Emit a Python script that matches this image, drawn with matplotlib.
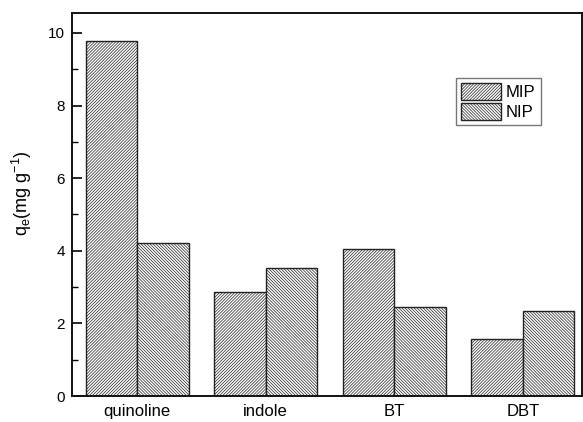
import matplotlib
matplotlib.use("Agg")
import matplotlib.pyplot as plt
import numpy as np

plt.rcParams['font.family'] = ['Liberation Sans', 'DejaVu Sans']
plt.rcParams['mathtext.default'] = 'regular'
plt.rcParams['hatch.linewidth'] = 0.5
plt.rcParams['hatch.color'] = '#4a4a4a'

categories = ['quinoline', 'indole', 'BT', 'DBT']
mip_values = [9.79, 2.87, 4.04, 1.57]
nip_values = [4.21, 3.52, 2.45, 2.34]
series_labels = ['MIP', 'NIP']

W, H = 583, 422
fig = plt.figure(figsize=(W / 100, H / 100), dpi=100)
ax = fig.add_axes([72 / W, 26 / H, 510 / W, 383 / H])

x = np.arange(len(categories))
width = 0.4
ax.bar(x - width / 2, mip_values, width, facecolor='white', edgecolor='#222222',
       linewidth=1.0, hatch='/' * 11, label=series_labels[0])
ax.bar(x + width / 2, nip_values, width, facecolor='white', edgecolor='#222222',
       linewidth=1.0, hatch='\\' * 11, label=series_labels[1])

ax.set_xlim(-0.507, 3.46)
ax.set_ylim(0, 10.55)
ax.set_xticks(x)
ax.set_xticklabels(categories, fontsize=12)
ax.tick_params(axis='x', length=0, pad=6)
ax.set_yticks([0, 2, 4, 6, 8, 10])
ax.set_yticks([1, 3, 5, 7, 9], minor=True)
ax.tick_params(axis='y', which='major', direction='in', length=7, width=1.2, labelsize=11, pad=5)
ax.tick_params(axis='y', which='minor', direction='in', length=4, width=1.0)

for s in ax.spines.values():
    s.set_linewidth(1.4)
    s.set_color('#111111')

ax.set_ylabel(r'q$_e$(mg g$^{-1}$)', fontsize=13)
ax.yaxis.set_label_coords(-0.075, 0.53)

leg = ax.legend(loc='upper left', bbox_to_anchor=(456 / W, 1 - 78 / H),
                bbox_transform=fig.transFigure, fontsize=12, frameon=True,
                fancybox=False, handlelength=2.4, handleheight=1.15,
                handletextpad=0.3, borderpad=0.3, labelspacing=0.2,
                borderaxespad=0)
leg.get_frame().set_edgecolor('#555555')
leg.get_frame().set_linewidth(1.0)

fig.savefig('out.png', dpi=100)
